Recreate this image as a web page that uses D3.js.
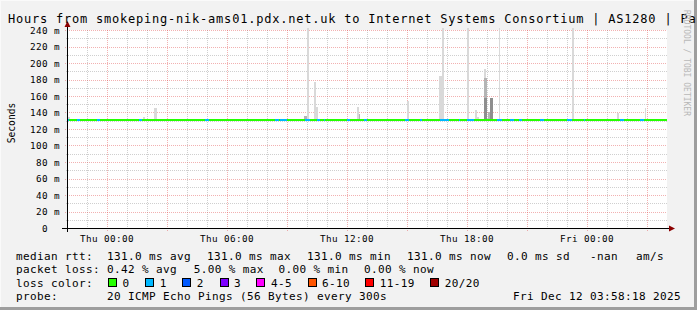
<!DOCTYPE html>
<html><head><meta charset="utf-8">
<script src="https://cdn.jsdelivr.net/npm/d3@7"></script>
<style>
body{margin:0;background:#f2f2f2}
svg{display:block}
text{font-family:"DejaVu Sans Mono",monospace;fill:#000;white-space:pre}
</style></head><body>
<svg id="c" width="697" height="310"></svg>
<script>
// ---------- data ----------
const titleText = "Hours from smokeping-nik-ams01.pdx.net.uk to Internet Systems Consortium | AS1280 | Pa";
const yAxisTitle = "Seconds";
const watermark = "RRDTOOL / TOBI OETIKER";
const timeStart = "2025-12-10 22:00";
const timeEnd = "2025-12-12 04:00";
const yMax = 240;
const yLabelValues = [0, 20, 40, 60, 80, 100, 120, 140, 160, 180, 200, 220, 240];
const yMinorValues = [10, 30, 50, 70, 90, 110, 130, 150, 170, 190, 210, 230];
const medianRtt = 131.0;
// periods with 1/20 pings lost: [start, minutes]
const lossOne = [
  ["2025-12-10 22:00", 5], ["2025-12-10 22:30", 10], ["2025-12-10 23:30", 10],
  ["2025-12-11 01:35", 10], ["2025-12-11 04:55", 10], ["2025-12-11 08:25", 10],
  ["2025-12-11 08:40", 20], ["2025-12-11 09:55", 15], ["2025-12-11 10:30", 10],
  ["2025-12-11 10:50", 5], ["2025-12-11 12:00", 10], ["2025-12-11 12:50", 10],
  ["2025-12-11 14:55", 10], ["2025-12-11 15:40", 5], ["2025-12-11 16:40", 25],
  ["2025-12-11 17:35", 5], ["2025-12-11 18:00", 20], ["2025-12-11 19:30", 15],
  ["2025-12-11 20:10", 10], ["2025-12-11 20:35", 10], ["2025-12-11 21:40", 10],
  ["2025-12-11 23:00", 15], ["2025-12-11 23:50", 5], ["2025-12-12 01:40", 10],
  ["2025-12-12 02:40", 10]
];
// smoke (ping spread) : [start, minutes, top value in ms]
const smokeLight = [
  ["2025-12-10 22:03", 6, 135], ["2025-12-11 01:48", 6, 135], ["2025-12-11 02:21", 9, 146],
  ["2025-12-11 10:00", 6, 250], ["2025-12-11 10:21", 6, 177], ["2025-12-11 10:24", 9, 147],
  ["2025-12-11 12:30", 6, 147], ["2025-12-11 15:00", 6, 154], ["2025-12-11 16:36", 15, 184],
  ["2025-12-11 16:45", 6, 250], ["2025-12-11 18:00", 6, 250], ["2025-12-11 18:24", 6, 143],
  ["2025-12-11 18:30", 6, 135], ["2025-12-11 18:51", 6, 193], ["2025-12-11 19:36", 4, 250],
  ["2025-12-11 23:15", 6, 250], ["2025-12-12 01:30", 6, 139], ["2025-12-12 02:54", 3, 146]
];
const smokeMid = [
  ["2025-12-11 09:51", 9, 136], ["2025-12-11 12:36", 3, 138], ["2025-12-11 18:51", 9, 182],
  ["2025-12-11 19:02", 7, 141], ["2025-12-11 19:09", 9, 141]
];
const smokeDark = [
  ["2025-12-11 18:51", 9, 158], ["2025-12-11 19:09", 9, 157]
];
const lossColorLabels = ["0", "1", "2", "3", "4-5", "6-10", "11-19", "20/20"];
const lossColors = ["#26ff00", "#00b8ff", "#0059ff", "#7e00ff", "#ff00ff", "#ff5500", "#ff0000", "#a00000"];
const rttStats = ["131.0 ms avg", "131.0 ms max", "131.0 ms min", "131.0 ms now", "0.0 ms sd", "-nan", "am/s"];
const lossStats = ["0.42 % avg", "5.00 % max", "0.00 % min", "0.00 % now"];
const probeText = "20 ICMP Echo Pings (56 Bytes) every 300s";
const stampText = "Fri Dec 12 03:58:18 2025";

// ---------- layout ----------
const svg = d3.select("#c");
const W = 697, H = 310;
const L = 67, R = 667, T = 30, B = 228;
const parse = d3.timeParse("%Y-%m-%d %H:%M");
const t0 = parse(timeStart), t1 = parse(timeEnd);
const x = d3.scaleTime().domain([t0, t1]).range([L, R]);
const y = d3.scaleLinear().domain([0, yMax]).range([B, T]);
const GRID = "rgba(140,140,140,0.42)", MGRID = "rgba(225,70,70,0.42)";

// background and frame
svg.append("rect").attr("width", W).attr("height", H).attr("fill", "#f2f2f2");
svg.append("rect").attr("x", 0).attr("y", 0).attr("width", W).attr("height", 1).attr("fill", "#fafafa");
svg.append("rect").attr("x", 0).attr("y", 0).attr("width", 1).attr("height", H).attr("fill", "#fafafa");
svg.append("rect").attr("x", W - 3).attr("y", 0).attr("width", 3).attr("height", H).attr("fill", "#9e9e9e");
svg.append("rect").attr("x", 0).attr("y", H - 3).attr("width", W).attr("height", 3).attr("fill", "#9e9e9e");
svg.append("rect").attr("x", L).attr("y", T).attr("width", R - L).attr("height", B - T).attr("fill", "#fff");

svg.append("defs").append("clipPath").attr("id", "pc")
  .append("rect").attr("x", L).attr("y", T - 2).attr("width", R - L).attr("height", B - T + 2);

// grid
const gGrid = svg.append("g").attr("shape-rendering", "crispEdges");
const hours = d3.timeHour.every(1).range(d3.timeHour.offset(t0, 1), t1);
hours.forEach(h => {
  const major = h.getHours() % 3 === 0;
  gGrid.append("line").attr("x1", Math.round(x(h)) + 0.5).attr("x2", Math.round(x(h)) + 0.5)
    .attr("y1", T).attr("y2", B + (major ? 3 : 2))
    .attr("stroke", major ? MGRID : GRID).attr("stroke-dasharray", "1,1");
});
yMinorValues.forEach(v => {
  gGrid.append("line").attr("x1", L - 1).attr("x2", R).attr("y1", Math.round(y(v)) + 0.5).attr("y2", Math.round(y(v)) + 0.5)
    .attr("stroke", GRID).attr("stroke-dasharray", "1,1");
});
yLabelValues.filter(v => v > 0).forEach(v => {
  gGrid.append("line").attr("x1", L - 2).attr("x2", R).attr("y1", Math.round(y(v)) + 0.5).attr("y2", Math.round(y(v)) + 0.5)
    .attr("stroke", MGRID).attr("stroke-dasharray", "1,1");
});

// smoke
const gSmoke = svg.append("g").attr("clip-path", "url(#pc)").attr("shape-rendering", "crispEdges");
function drawSmoke(arr, color) {
  gSmoke.selectAll(null).data(arr).enter().append("rect")
    .attr("x", d => x(parse(d[0])))
    .attr("width", d => x(d3.timeMinute.offset(parse(d[0]), d[1])) - x(parse(d[0])))
    .attr("y", d => y(d[2]))
    .attr("height", d => y(medianRtt - 1) - y(d[2]))
    .attr("fill", color);
}
drawSmoke(smokeLight, "#d9d9d9");
drawSmoke(smokeMid, "#b4b4b4");
drawSmoke(smokeDark, "#8e8e8e");

// median line
const gLine = svg.append("g").attr("shape-rendering", "crispEdges");
gLine.append("line").attr("x1", x(t0)).attr("x2", x(t1)).attr("y1", y(medianRtt)).attr("y2", y(medianRtt))
  .attr("stroke", lossColors[0]).attr("stroke-width", 2);
gLine.selectAll(null).data(lossOne).enter().append("line")
  .attr("x1", d => x(parse(d[0])))
  .attr("x2", d => x(d3.timeMinute.offset(parse(d[0]), d[1])))
  .attr("y1", y(medianRtt)).attr("y2", y(medianRtt))
  .attr("stroke", lossColors[1]).attr("stroke-width", 2);

// axes
const gAx = svg.append("g").attr("shape-rendering", "crispEdges");
gAx.append("line").attr("x1", L - 5).attr("x2", R + 2).attr("y1", B + 0.5).attr("y2", B + 0.5).attr("stroke", "#000");
gAx.append("line").attr("x1", L + 0.5).attr("x2", L + 0.5).attr("y1", B + 4).attr("y2", T - 4).attr("stroke", "#000");
svg.append("path").attr("d", `M${R + 2},${B - 2.5}L${R + 8},${B + 0.5}L${R + 2},${B + 3.5}Z`).attr("fill", "#8b0000");
svg.append("path").attr("d", `M${L - 2.5},${T - 3}L${L + 0.5},${T - 9}L${L + 3.5},${T - 3}Z`).attr("fill", "#8b0000");

// y labels
const adv = 6.0;
svg.selectAll(null).data(yLabelValues).enter().append("text")
  .text(v => v === 0 ? "0" : v + " m")
  .attr("x", v => 60 - (v === 0 ? 3 : (v + " m").length) * adv)
  .attr("y", v => y(v) + 3.5)
  .style("font-size", "9.3px").style("letter-spacing", "0.4px");

// x labels
const fmt = d3.timeFormat("%a %H:%M");
const labelTimes = d3.timeHour.every(6).range(t0, t1);
svg.selectAll(null).data(labelTimes).enter().append("text")
  .text(d => fmt(d))
  .attr("x", d => x(d) - fmt(d).length * adv / 2)
  .attr("y", 241.5)
  .style("font-size", "9.3px").style("letter-spacing", "0.4px");

// titles
svg.append("text").text(titleText).attr("x", 8).attr("y", 23.3)
  .style("font-size", "12px").style("letter-spacing", "0.78px");
svg.append("text").text(yAxisTitle).attr("transform", "translate(15,123) rotate(-90)")
  .attr("text-anchor", "middle").style("font-size", "9.6px");
svg.append("text").text(watermark).attr("transform", "translate(683.5,10) rotate(90)")
  .style("font-size", "8px").style("fill", "#b8b8b8");

// legend
const lf = "11px", ls = "0.38px";
function lt(s, xx, yy) {
  return svg.append("text").text(s).attr("x", xx).attr("y", yy).style("font-size", lf).style("letter-spacing", ls);
}
const row = [259.5, 273, 286.7, 300.3];
lt("median rtt:", 16, row[0]);
const rttX = [107, 207, 307, 407, 507, 590, 636];
rttStats.forEach((s, i) => lt(s, rttX[i], row[0]));
lt("packet loss:", 16, row[1]);
const lossX = [107, 193.7, 278.6, 364];
lossStats.forEach((s, i) => lt(s, lossX[i], row[1]));
lt("loss color:", 16, row[2]);
const boxX = [108, 145.3, 182.2, 219.6, 256.4, 307.6, 365.3, 430.2];
lossColorLabels.forEach((s, i) => {
  svg.append("rect").attr("x", Math.round(boxX[i]) + 0.5).attr("y", 278.5).attr("width", 8).attr("height", 8)
    .attr("fill", lossColors[i]).attr("stroke", "#000").attr("stroke-width", 1);
  lt(s, boxX[i] + 14.5, row[2]);
});
lt("probe:", 16, row[3]);
lt(probeText, 107, row[3]);
lt(stampText, 513, row[3]);
</script></body></html>
